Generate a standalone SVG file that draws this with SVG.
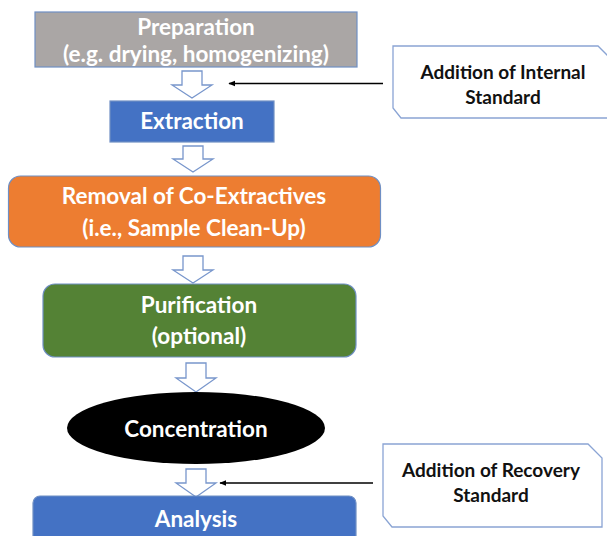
<svg xmlns="http://www.w3.org/2000/svg" width="607" height="536" viewBox="0 0 607 536">
<defs>
<style>
.t{font-family:Lato,"Open Sans","Liberation Sans",sans-serif;font-weight:bold;font-size:22.5px;fill:#ffffff;text-anchor:middle}
.c{font-family:Lato,"Open Sans","Liberation Sans",sans-serif;font-weight:bold;font-size:19px;fill:#111111;text-anchor:middle}
.box{stroke:#6f8fc4;stroke-width:1.2}
.blk{fill:#ffffff;stroke:#7896cc;stroke-width:1.3}
.call{fill:#ffffff;stroke:#8aa4d4;stroke-width:1.3}
.ln{stroke:#000000;stroke-width:1.5;fill:none}
</style>
<marker id="ah" viewBox="0 0 10 10" refX="9" refY="5" markerWidth="7" markerHeight="7" orient="auto" markerUnits="userSpaceOnUse">
<path d="M0,1 L10,5 L0,9 Z" fill="#000000"/>
</marker>
</defs>
<rect width="607" height="536" fill="#ffffff"/>
<g id="connectors">
<path class="blk" d="M182,71 H202 V85 H212 L192,98 L172,85 H182 Z"/>
<path class="blk" d="M183,146 H203 V159 H213 L193,172 L173,159 H183 Z"/>
<path class="blk" d="M183,256 H203 V270 H213 L193,283 L173,270 H183 Z"/>
<path class="blk" d="M186,363 H206 V378 H216 L196,392 L176,378 H186 Z"/>
<path class="blk" d="M186,469 H206 V483 H216 L196,497 L176,483 H186 Z"/>
<line class="ln" x1="383" y1="83.5" x2="229" y2="83.5" marker-end="url(#ah)"/>
<line class="ln" x1="373" y1="483" x2="220" y2="483" marker-end="url(#ah)"/>
</g>
<g id="preparation">
<rect class="box" x="35" y="12" width="322" height="55" fill="#aaa6a5"/>
<text class="t" x="196" y="35">Preparation</text>
<text class="t" x="196" y="62">(e.g. drying, homogenizing)</text>
</g>
<g id="extraction">
<rect class="box" x="110" y="101" width="164" height="41" fill="#4472c4"/>
<text class="t" x="192" y="129">Extraction</text>
</g>
<g id="removal">
<rect class="box" x="8.5" y="176" width="372" height="71" rx="12" fill="#ed7d31"/>
<text class="t" x="194" y="204">Removal of Co-Extractives</text>
<text class="t" x="194" y="236">(i.e., Sample Clean-Up)</text>
</g>
<g id="purification">
<rect class="box" x="43" y="284" width="313" height="73" rx="12" fill="#548235"/>
<text class="t" x="199" y="313">Purification</text>
<text class="t" x="199" y="344">(optional)</text>
</g>
<g id="concentration">
<ellipse cx="196" cy="428" rx="129" ry="36" fill="#000000"/>
<text class="t" x="196" y="437">Concentration</text>
</g>
<g id="analysis">
<rect class="box" x="33" y="496" width="323" height="60" rx="7" fill="#4472c4"/>
<text class="t" x="196" y="527">Analysis</text>
</g>
<g id="internal-standard">
<path class="call" d="M393,46 H598 L612,60 V118 H401 L393,108 Z"/>
<text class="c" x="503" y="79">Addition of Internal</text>
<text class="c" x="503" y="104">Standard</text>
</g>
<g id="recovery-standard">
<path class="call" d="M383,444 H588 L602,458 V527 H392 L383,516 Z"/>
<text class="c" x="491" y="477">Addition of Recovery</text>
<text class="c" x="491" y="502">Standard</text>
</g>
</svg>
